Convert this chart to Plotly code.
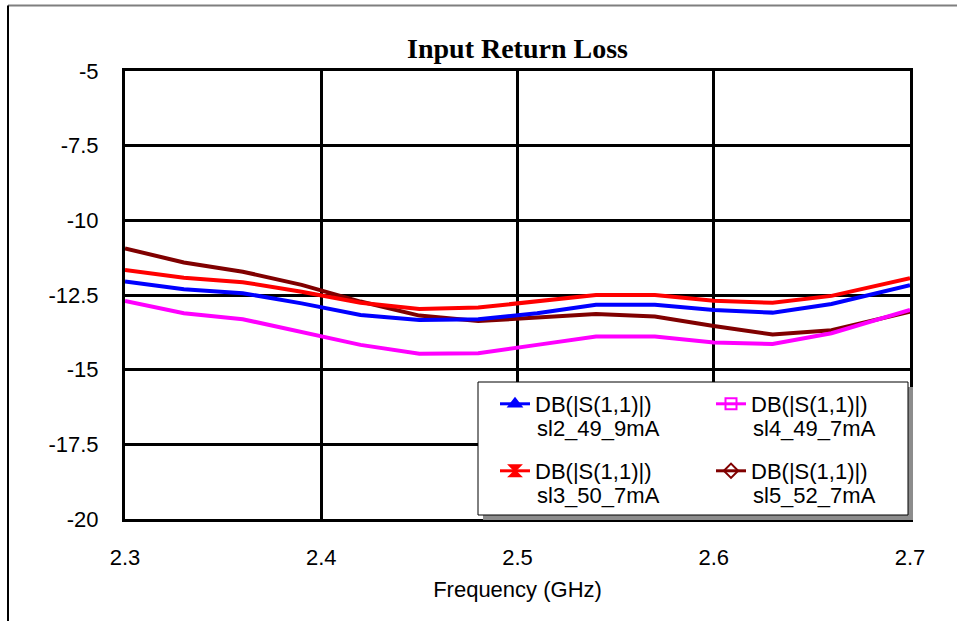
import plotly.graph_objects as go

freq = [2.30, 2.33, 2.36, 2.39, 2.42, 2.45, 2.48, 2.51, 2.54, 2.57, 2.60, 2.63, 2.66, 2.70]
sl2_49_9mA = [-12.05, -12.31, -12.44, -12.78, -13.17, -13.34, -13.31, -13.11, -12.83, -12.83, -13.00, -13.09, -12.80, -12.17]
sl3_50_7mA = [-11.66, -11.92, -12.07, -12.39, -12.76, -12.97, -12.92, -12.72, -12.50, -12.50, -12.69, -12.76, -12.53, -11.94]
sl4_49_7mA = [-12.70, -13.11, -13.31, -13.73, -14.17, -14.47, -14.45, -14.17, -13.89, -13.89, -14.09, -14.14, -13.78, -13.00]
sl5_52_7mA = [-10.94, -11.41, -11.72, -12.16, -12.72, -13.19, -13.37, -13.26, -13.14, -13.22, -13.54, -13.82, -13.68, -13.06]

x_ticks = [2.3, 2.4, 2.5, 2.6, 2.7]
x_ticklabels = ["2.3", "2.4", "2.5", "2.6", "2.7"]
y_ticks = [-5, -7.5, -10, -12.5, -15, -17.5, -20]
y_ticklabels = ["-5", "-7.5", "-10", "-12.5", "-15", "-17.5", "-20"]
legend_quantity = "DB(|S(1,1)|)"

W, H = 957, 621
L, R, T, B = 125, 910, 71, 519

def px(xp):
    return (xp - L) / (R - L)

def py(yp):
    return (B - yp) / (B - T)

# name, values, colour, legend symbol, legend id, legend position (px)
series = [
    ("sl2_49_9mA", sl2_49_9mA, "#0000FF", "triangle-up", "legend", (495, 383)),
    ("sl4_49_7mA", sl4_49_7mA, "#FF00FF", "square-open", "legend2", (711, 383)),
    ("sl3_50_7mA", sl3_50_7mA, "#FF0000", "hourglass", "legend3", (495, 450)),
    ("sl5_52_7mA", sl5_52_7mA, "#800000", "diamond-open", "legend4", (711, 450)),
]

fig = go.Figure()
for idx in [3, 1, 0, 2]:
    name, ys, col, sym, lg, pos = series[idx]
    fig.add_trace(go.Scatter(x=freq, y=ys, mode="lines", name=name,
                             line=dict(color=col, width=4), showlegend=False))
for name, ys, col, sym, lg, pos in series:
    fig.add_trace(go.Scatter(x=[None], y=[None], mode="lines+markers",
                             name=legend_quantity, legend=lg,
                             line=dict(color=col, width=3),
                             marker=dict(symbol=sym, size=11, color=col,
                                         line=dict(color=col, width=2))))

font = "Liberation Sans, Arial, sans-serif"
legends = {}
annotations = []
for name, ys, col, sym, lg, pos in series:
    legends[lg] = dict(x=px(pos[0]), y=py(pos[1]), xanchor="left", yanchor="top",
                       bgcolor="rgba(0,0,0,0)", borderwidth=0,
                       font=dict(family=font, size=22, color="black"),
                       valign="top", itemclick=False, itemdoubleclick=False)
    # second line of the legend label
    annotations.append(dict(text=name, xref="paper", yref="paper",
                            x=px(pos[0] + 40), y=py(pos[1] + 45),
                            xanchor="left", yanchor="middle", showarrow=False,
                            font=dict(family=font, size=22, color="black")))

fig.update_layout(
    width=W, height=H, autosize=False,
    margin=dict(l=L, r=W - R, t=T, b=H - B, pad=0),
    paper_bgcolor="white", plot_bgcolor="white",
    font=dict(family=font, size=22, color="black"),
    title=dict(text="<b>Input Return Loss</b>", x=517.5 / W,
               xanchor="center", y=1 - 48 / H, yanchor="middle",
               font=dict(family="Liberation Serif, Times New Roman, serif", size=28, color="black")),
    xaxis=dict(range=[2.3, 2.7], tickvals=x_ticks, ticktext=x_ticklabels,
               showgrid=True, gridcolor="black", gridwidth=3,
               showline=True, linecolor="black", linewidth=3, mirror=True,
               ticks="", zeroline=False, ticklabelstandoff=17, automargin=False,
               title=dict(text="Frequency (GHz)", standoff=13,
                          font=dict(family=font, size=22))),
    yaxis=dict(range=[-20, -5], tickvals=y_ticks, ticktext=y_ticklabels,
               showgrid=True, gridcolor="black", gridwidth=3,
               showline=True, linecolor="black", linewidth=3, mirror=True,
               ticks="", zeroline=False, ticklabelstandoff=19, automargin=False),
    annotations=annotations,
    shapes=[
        # legend shadow and box
        dict(type="rect", xref="paper", yref="paper", x0=px(483), x1=px(913), y0=py(520), y1=py(387),
             fillcolor="#8c8c8c", line=dict(width=0), layer="above"),
        dict(type="rect", xref="paper", yref="paper", x0=px(478), x1=px(908), y0=py(515), y1=py(382),
             fillcolor="white", line=dict(color="black", width=1), layer="above"),
        # outer frame
        dict(type="line", xref="paper", yref="paper", x0=px(8), x1=px(W + 5), y0=py(5.5), y1=py(5.5),
             line=dict(color="#7f7f7f", width=2)),
        dict(type="line", xref="paper", yref="paper", x0=px(8), x1=px(8), y0=py(5.5), y1=py(H + 5),
             line=dict(color="black", width=2)),
    ],
    **legends,
)

fig.write_html("out.html", config={"displayModeBar": False},
               post_script="document.body.style.margin='0';")
